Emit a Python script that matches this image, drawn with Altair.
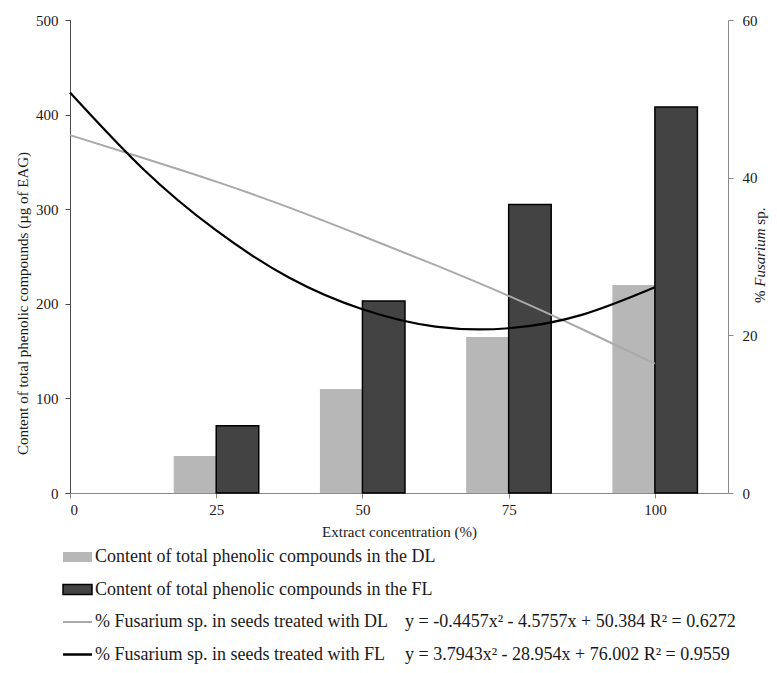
import altair as alt
import pandas as pd

# ---------------- data ----------------
concentration = [25, 50, 75, 100]
phenolic_dl = [39, 110, 165, 220]
phenolic_fl = [71, 203, 305, 408]

curve_x = [0, 12.5, 25, 37.5, 50, 62.5, 75, 87.5, 100]
fusarium_dl = [45.4, 42.5, 39.5, 36.2, 32.6, 28.9, 25.0, 20.8, 16.4]
fusarium_fl = [50.8, 41.1, 33.3, 27.3, 23.3, 21.1, 20.9, 22.6, 26.1]

x_ticks = [0, 25, 50, 75, 100]
left_ticks = [0, 100, 200, 300, 400, 500]
right_ticks = [0, 20, 40, 60]

legend_labels = [
    "Content of total phenolic compounds in the DL",
    "Content of total phenolic compounds in the FL",
    "% Fusarium sp. in seeds treated with DL",
    "% Fusarium sp. in seeds treated with FL",
]
equations = [
    "y = -0.4457x² - 4.5757x + 50.384 R² = 0.6272",
    "y = 3.7943x² - 28.954x + 76.002 R² = 0.9559",
]

# ---------------- style ----------------
FONT = "Liberation Serif, Times New Roman, Times, serif"
TXT = "#1a1a1a"
DL_BAR = "#b7b7b7"
FL_BAR = "#434343"
DL_LINE = "#a9a9a9"
FL_LINE = "#000000"
W, H = 658, 473
BW = 7.27  # bar width in x units

bars = pd.DataFrame({
    "conc": concentration * 2,
    "value": phenolic_dl + phenolic_fl,
    "series": ["DL"] * 4 + ["FL"] * 4,
    "side": [-1] * 4 + [0] * 4,
})
curves = pd.DataFrame({
    "conc": curve_x * 2,
    "pct": fusarium_dl + fusarium_fl,
    "series": ["DL"] * 9 + ["FL"] * 9,
})

x_axis = alt.Axis(
    values=x_ticks, title="Extract concentration (%)", format="d",
    domainColor="#8a8a8a", tickColor="#8a8a8a", tickSize=5,
    labelFontSize=15, labelPadding=4, titleFontSize=15, titlePadding=7,
)
x_scale = alt.Scale(domain=[0, 112.5], nice=False, zero=False)

y_left = alt.Y(
    "value:Q",
    scale=alt.Scale(domain=[0, 500], nice=False),
    axis=alt.Axis(
        values=left_ticks, title="Content of total phenolic compounds (µg of EAG)",
        domainColor="#4a4a4a", tickColor="#4a4a4a", tickSize=5,
        labelFontSize=15, labelPadding=7,
        titleFontSize=15, titleX=-48, titleY=283, titleAngle=270,
        titleAlign="center", titleBaseline="middle",
    ),
)

base_bars = alt.Chart(bars).transform_calculate(
    x0=f"datum.conc + datum.side * {BW}",
    x1=f"datum.conc + datum.side * {BW} + {BW}",
)
dl_bars = base_bars.transform_filter("datum.series == 'DL'").mark_rect(
    color=DL_BAR
).encode(x=alt.X("x0:Q", scale=x_scale, axis=x_axis), x2="x1:Q", y=y_left, y2=alt.datum(0))
fl_bars = base_bars.transform_filter("datum.series == 'FL'").mark_rect(
    color=FL_BAR, stroke="#000000", strokeWidth=1.5
).encode(x=alt.X("x0:Q", scale=x_scale, axis=x_axis), x2="x1:Q", y=y_left, y2=alt.datum(0))
bar_layer = alt.layer(dl_bars, fl_bars)

y_right = alt.Y(
    "pct:Q",
    scale=alt.Scale(domain=[0, 60], nice=False),
    axis=alt.Axis(
        orient="right", values=right_ticks, title=None,
        domainColor="#8a8a8a", tickColor="#8a8a8a", tickSize=5,
        labelFontSize=15, labelPadding=9,
    ),
)
base_curves = alt.Chart(curves)
dl_line = base_curves.transform_filter("datum.series == 'DL'").mark_line(
    color=DL_LINE, strokeWidth=2, interpolate="natural"
).encode(x=alt.X("conc:Q", scale=x_scale, axis=x_axis), y=y_right)
fl_line = base_curves.transform_filter("datum.series == 'FL'").mark_line(
    color=FL_LINE, strokeWidth=2.2, interpolate="natural"
).encode(x=alt.X("conc:Q", scale=x_scale, axis=x_axis), y=y_right)
line_layer = alt.layer(dl_line, fl_line)

# ---------------- right axis title with italic Fusarium ----------------
one = pd.DataFrame({"k": [0]})
TFS = 15
title_parts = []
y0 = 283
for txt, style, w in [("%", "normal", 1.083), ("Fusarium", "italic", 4.14), ("sp.", "normal", 1.14)]:
    title_parts.append(
        alt.Chart(one).mark_text(
            text=txt, font=FONT, fontSize=TFS, fontStyle=style, angle=270,
            align="left", baseline="middle", color=TXT,
        ).encode(x=alt.value(690), y=alt.value(y0))
    )
    y0 -= w * TFS

# ---------------- legend below the plot ----------------
LEG_TOP, LEG_STEP = 537, 32.5
LFS = 18
leg = pd.DataFrame({"label": legend_labels, "row": list(range(4))})
leg_text = alt.Chart(leg).transform_calculate(
    ypx=f"{LEG_TOP} + datum.row * {LEG_STEP}"
).mark_text(font=FONT, fontSize=LFS, align="left", baseline="middle", color=TXT).encode(
    x=alt.value(25), y=alt.Y("ypx:Q", scale=None), text="label:N"
)
eq = pd.DataFrame({"label": equations, "row": [2, 3]})
eq_text = alt.Chart(eq).transform_calculate(
    ypx=f"{LEG_TOP} + datum.row * {LEG_STEP}"
).mark_text(font=FONT, fontSize=LFS, align="left", baseline="middle", color=TXT).encode(
    x=alt.value(335), y=alt.Y("ypx:Q", scale=None), text="label:N"
)
sw0 = alt.Chart(one).mark_rect(color=DL_BAR).encode(
    x=alt.value(-7), x2=alt.value(22), y=alt.value(LEG_TOP - 5), y2=alt.value(LEG_TOP + 5)
)
sw1 = alt.Chart(one).mark_rect(color=FL_BAR, stroke="#000000", strokeWidth=1.5).encode(
    x=alt.value(-7), x2=alt.value(22),
    y=alt.value(LEG_TOP + LEG_STEP - 5), y2=alt.value(LEG_TOP + LEG_STEP + 5)
)
sw2 = alt.Chart(one).mark_rule(color=DL_LINE, strokeWidth=2).encode(
    x=alt.value(-7), x2=alt.value(22), y=alt.value(LEG_TOP + 2 * LEG_STEP)
)
sw3 = alt.Chart(one).mark_rule(color=FL_LINE, strokeWidth=2.5).encode(
    x=alt.value(-7), x2=alt.value(22), y=alt.value(LEG_TOP + 3 * LEG_STEP)
)

chart = alt.layer(
    bar_layer, line_layer, *title_parts, leg_text, eq_text, sw0, sw1, sw2, sw3
).resolve_scale(y="independent").properties(
    width=W, height=H,
    autosize=alt.AutoSizeParams(type="none"),
    padding={"left": 62, "top": 12, "right": 41, "bottom": 172},
).configure_view(stroke=None).configure_axis(
    labelFont=FONT, titleFont=FONT, labelColor=TXT, titleColor=TXT,
    titleFontWeight="normal", grid=False,
)

chart.save("out.html", embed_options={"renderer": "svg", "actions": False})
